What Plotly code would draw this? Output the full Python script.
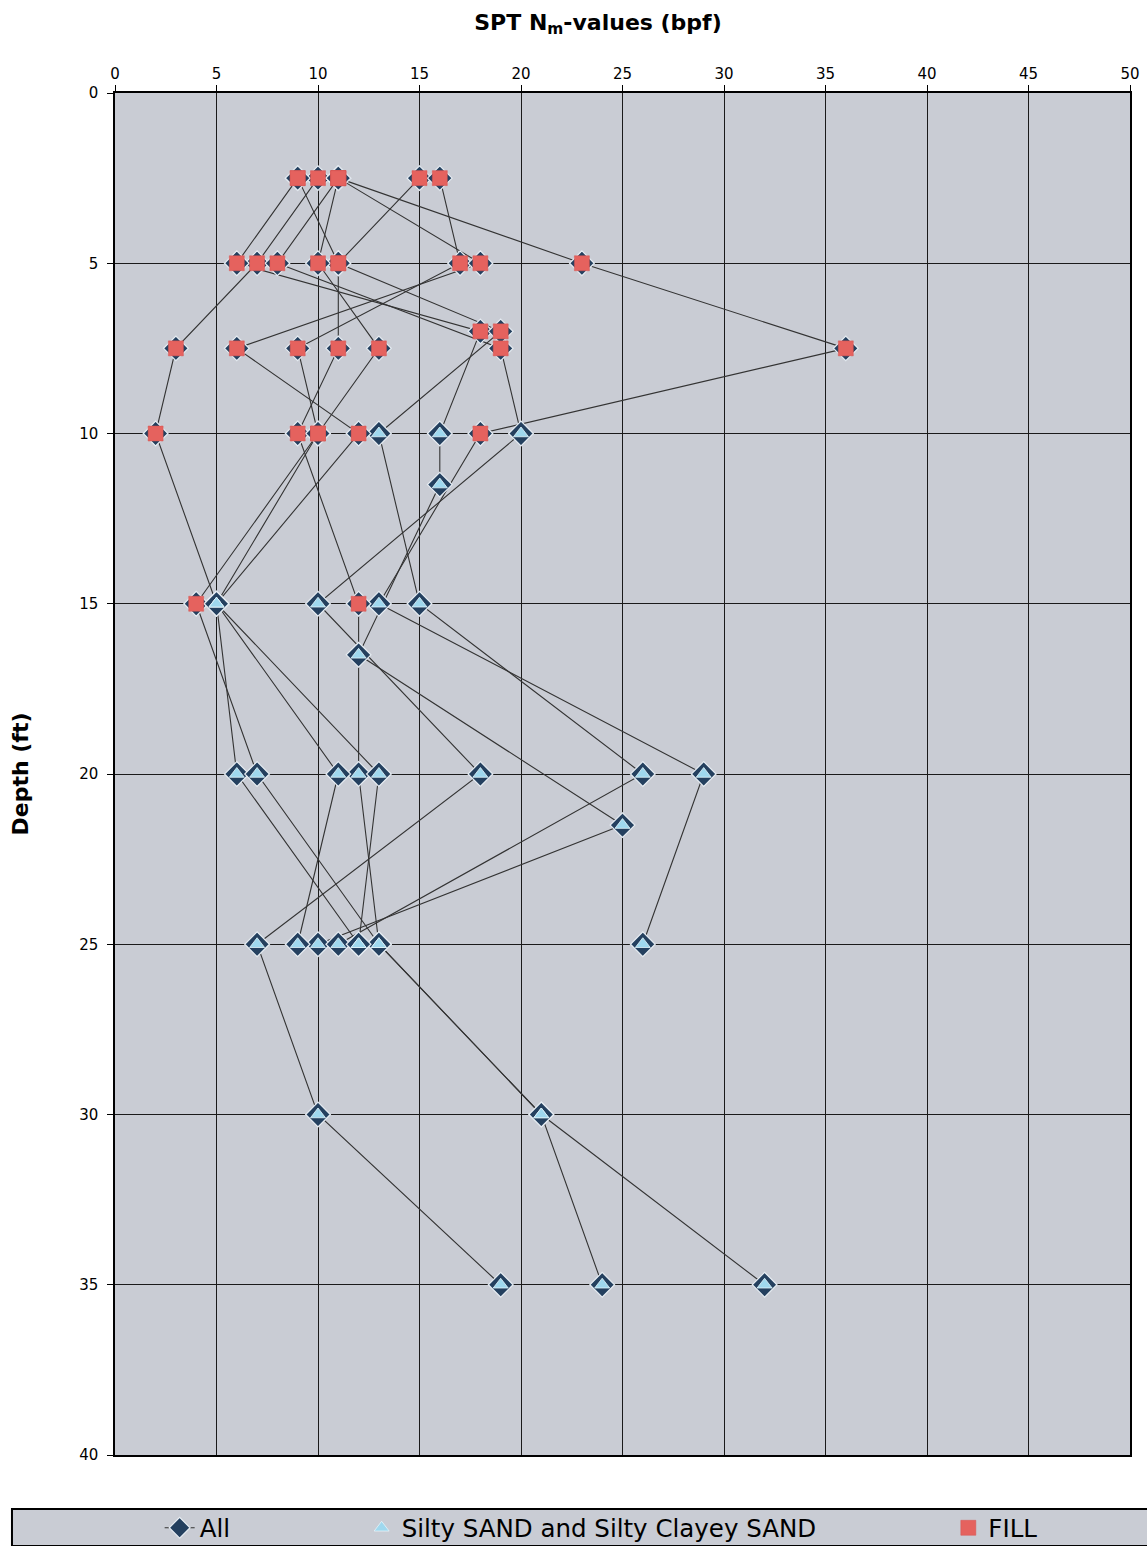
import plotly.graph_objects as go

# ---- SPT data: depth (ft), N-value (bpf) and soil class per boring ----
# soil class: "F" = FILL, "S" = Silty SAND and Silty Clayey SAND
B1_depth = [2.5, 5, 7.5, 10, 15, 20, 25]
B1_n = [10, 7, 3, 2, 5, 6, 12]
B1_soil = ["F", "F", "F", "F", "S", "S", "S"]

B2_depth = [2.5, 5, 7, 10, 11.5, 16.5, 21.5, 25]
B2_n = [9, 6, 18, 16, 16, 12, 25, 10]
B2_soil = ["F", "F", "F", "S", "S", "S", "S", "S"]

B3_depth = [2.5, 5, 7.5, 10, 15, 20, 25, 30, 35]
B3_n = [11, 8, 19, 20, 10, 18, 7, 10, 19]
B3_soil = ["F", "F", "F", "S", "S", "S", "S", "S", "S"]

B4_depth = [2.5, 5, 7.5, 10, 15, 20, 25]
B4_n = [11, 23, 36, 18, 13, 29, 26]
B4_soil = ["F", "F", "F", "F", "S", "S", "S"]

B5_depth = [2.5, 5, 7.5, 10, 15, 20, 25, 30, 35]
B5_n = [15, 11, 11, 9, 12, 12, 13, 21, 32]
B5_soil = ["F", "F", "F", "F", "F", "S", "S", "S", "S"]

B6_depth = [2.5, 5, 7.5, 10, 15, 20, 25, 30, 35]
B6_n = [16, 17, 9, 10, 4, 7, 13, 21, 24]
B6_soil = ["F", "F", "F", "F", "F", "S", "S", "S", "S"]

B7_depth = [2.5, 5, 7, 10, 15, 20, 25]
B7_n = [9, 11, 19, 13, 15, 26, 11]
B7_soil = ["F", "F", "F", "S", "S", "S", "S"]

B8_depth = [2.5, 5, 7.5, 10, 15, 20, 25]
B8_n = [11, 10, 13, 10, 5, 11, 9]
B8_soil = ["F", "F", "F", "F", "S", "S", "S"]

B9_depth = [2.5, 5, 7.5, 10, 15, 20, 25]
B9_n = [11, 18, 6, 12, 5, 13, 12]
B9_soil = ["F", "F", "F", "F", "S", "S", "S"]

X_TICKS = [0, 5, 10, 15, 20, 25, 30, 35, 40, 45, 50]
Y_TICKS = [0, 5, 10, 15, 20, 25, 30, 35, 40]

borings = [
    (B1_depth, B1_n, B1_soil), (B2_depth, B2_n, B2_soil),
    (B3_depth, B3_n, B3_soil), (B4_depth, B4_n, B4_soil),
    (B5_depth, B5_n, B5_soil), (B6_depth, B6_n, B6_soil),
    (B7_depth, B7_n, B7_soil), (B8_depth, B8_n, B8_soil),
    (B9_depth, B9_n, B9_soil),
]

# one "All" trace: borings joined with gaps so each boring is its own polyline
all_x, all_y = [], []
sand_x, sand_y, fill_x, fill_y = [], [], [], []
for depth, n, soil in borings:
    all_x += list(n) + [None]
    all_y += list(depth) + [None]
    for d, v, s in zip(depth, n, soil):
        if s == "S":
            sand_x.append(v); sand_y.append(d)
        else:
            fill_x.append(v); fill_y.append(d)

PLOT_BG = "#C9CCD4"
FONT = "DejaVu Sans"

fig = go.Figure()
fig.add_trace(go.Scatter(
    x=all_x, y=all_y, mode="lines+markers", name="All",
    connectgaps=False, showlegend=True,
    line=dict(color="#333333", width=1.1),
    marker=dict(symbol="diamond", size=19, color="#24405f",
                line=dict(color="#e6ecf2", width=1.2)),
    legend="legend",
))
fig.add_trace(go.Scatter(
    x=sand_x, y=sand_y, mode="markers", showlegend=True,
    name="Silty SAND and Silty Clayey SAND",
    marker=dict(symbol="triangle-up", size=13, color="#9fd8ee",
                line=dict(color="#e4f5fb", width=0.8)),
    legend="legend2",
))
fig.add_trace(go.Scatter(
    x=fill_x, y=fill_y, mode="markers", name="FILL", showlegend=True,
    marker=dict(symbol="square", size=15, color="#e5625e",
                line=dict(color="#d65552", width=0.5)),
    legend="legend3",
))

leg_common = dict(orientation="h", bgcolor="rgba(0,0,0,0)", borderwidth=0,
                  font=dict(family=FONT, size=24.5, color="black"),
                  y=-0.0535, yanchor="middle", xanchor="left",
                  visible=True)

fig.update_layout(
    width=1147, height=1546,
    margin=dict(l=115, r=17, t=93, b=91, autoexpand=False),
    showlegend=True,
    paper_bgcolor="white",
    plot_bgcolor=PLOT_BG,
    font=dict(family=FONT, color="black"),
    title=dict(text="<b>SPT N<sub>m</sub>-values (bpf)</b>",
               font=dict(family=FONT, size=22, color="black"),
               x=598 / 1147, xanchor="center", xref="container",
               y=1 - 22 / 1546, yanchor="middle", yref="container"),
    legend=dict(x=0.044, **leg_common),
    legend2=dict(x=0.243, **leg_common),
    legend3=dict(x=0.821, **leg_common),
    shapes=[dict(type="rect", xref="paper", yref="paper",
                 x0=-0.1015, x1=1.03, y0=-0.0668, y1=-0.0396,
                 fillcolor=PLOT_BG, line=dict(color="black", width=2),
                 layer="below")],
)

fig.update_xaxes(
    side="top", range=[0, 50], tickvals=X_TICKS,
    showgrid=True, gridcolor="#1a1a1a", gridwidth=1,
    showline=True, linecolor="black", linewidth=1.5, mirror=True,
    ticks="outside", ticklen=6, tickcolor="black",
    tickfont=dict(family=FONT, size=15, color="black"),
    zeroline=False,
)
fig.update_yaxes(
    range=[40, 0], tickvals=Y_TICKS,
    showgrid=True, gridcolor="#1a1a1a", gridwidth=1,
    showline=True, linecolor="black", linewidth=1.5, mirror=True,
    ticks="outside", ticklen=6, tickcolor="black",
    ticklabelstandoff=6,
    tickfont=dict(family=FONT, size=15, color="black"),
    title=dict(text="<b>Depth (ft)</b>", font=dict(family=FONT, size=22, color="black"),
               standoff=44),
    zeroline=False,
)

fig.write_html("out.html")
